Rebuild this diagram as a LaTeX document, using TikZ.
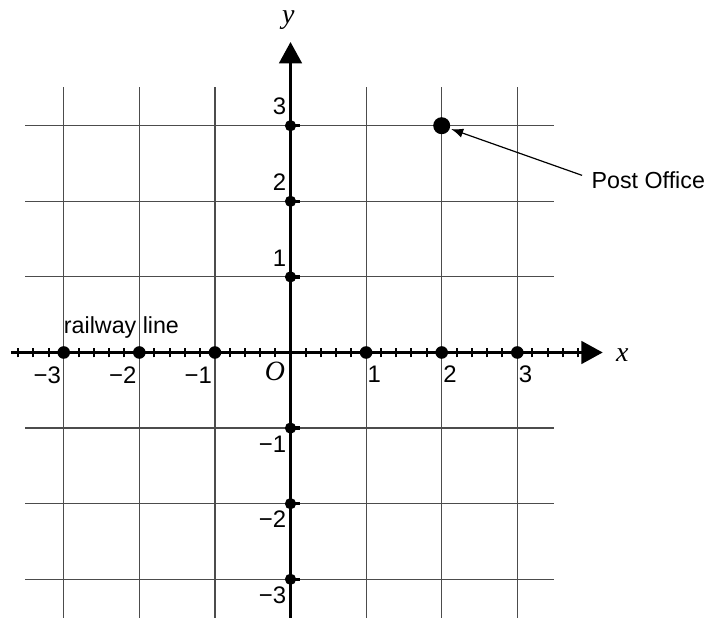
\documentclass[tikz,border=0pt]{standalone}
\usepackage{fontspec}
\setmainfont{Liberation Sans}
\newfontfamily\serifit{Liberation Serif}
\usetikzlibrary{arrows.meta}
\begin{document}
\begin{tikzpicture}[x=2cm,y=2cm,
  gridline/.style={draw=black!70, line width=0.9pt},
  axis/.style={line width=2pt, -{Triangle[length=16pt,width=17pt]}},
  tickmark/.style={line width=1.5pt},
  xdot/.style={circle, fill=black, inner sep=0pt, minimum size=9.5pt},
  ydot/.style={circle, fill=black, inner sep=0pt, minimum size=8.5pt},
  numlab/.style={inner sep=0pt, font=\fontsize{18}{21}\selectfont},
  txt/.style={inner sep=0pt, font=\fontsize{17.5}{20}\selectfont},
  varlab/.style={inner sep=0pt, font=\fontsize{21}{24}\selectfont\serifit\itshape},
]
\useasboundingbox (-3.843,-3.512) rectangle (5.536,4.663);
% grid
\foreach \i in {-3,...,3} {
  \draw[gridline] (\i,-3.6) -- (\i,3.512);
  \draw[gridline] (-3.512,\i) -- (3.485,\i);
}
% axes
\coordinate (xs) at (-3.70,0);
\coordinate (xe) at (4.13,0);
\coordinate (ys) at (0,-3.6);
\coordinate (ye) at (0,4.107);
\draw[axis] (xs) -- (xe);
\draw[axis] (ys) -- (ye);
% ticks on x axis
\foreach \t in {-18,...,19} {
  \pgfmathtruncatemacro\m{mod(abs(\t),5)}
  \ifnum\m=0\relax\else
    \draw[tickmark] (\t/5,-0.064) -- (\t/5,0.064);
  \fi
}
% dots and labels on x axis
\foreach \i/\n [count=\c] in {-3/3,-2/2,-1/1} {
  \node[xdot] (xn\c) at (\i,0) {};
  \node[numlab, anchor=north east] at ([xshift=-2pt,yshift=-10.5pt]xn\c.center) {−\n};
}
\foreach \i [count=\c] in {1,2,3} {
  \node[xdot] (xp\c) at (\i,0) {};
  \node[numlab, anchor=north west] at ([xshift=1pt,yshift=-10pt]xp\c.center) {\i};
}
% dots and labels on y axis
\foreach \i/\n [count=\c] in {-3/3,-2/2,-1/1} {
  \node[ydot] (yn\c) at (0,\i) {};
  \draw[line width=2.5pt] (yn\c.center) -- ++(0.13,0);
  \node[numlab, anchor=north east] at ([xshift=-3pt,yshift=-5.5pt]yn\c.center) {−\n};
}
\foreach \i [count=\c] in {1,2,3} {
  \node[ydot] (yp\c) at (0,\i) {};
  \draw[line width=2.5pt] (yp\c.center) -- ++(0.13,0);
  \node[numlab, anchor=south east] at ([xshift=-3pt,yshift=8pt]yp\c.center) {\i};
}
% axis letters
\node[varlab, anchor=base] (xl) at (4.39,-0.12) {x};
\node[varlab, anchor=base] (yl) at (-0.03,4.35) {y};
\node[varlab, anchor=base] (ol) at (-0.205,-0.364) {O};
% railway line
\node[txt, anchor=base west] (rail) at (-3.0,0.245) {railway line};
% post office
\node[circle, fill=black, inner sep=0pt, minimum size=12.8pt] (po) at (2,3) {};
\node[txt, anchor=base west] (potext) at (3.98,2.163) {Post Office};
\draw[-{Latex[length=9pt,width=7pt]}, line width=0.9pt, shorten >=1pt]
  ([xshift=-7pt,yshift=4pt]potext.west) -- (po);
\end{tikzpicture}
\end{document}
